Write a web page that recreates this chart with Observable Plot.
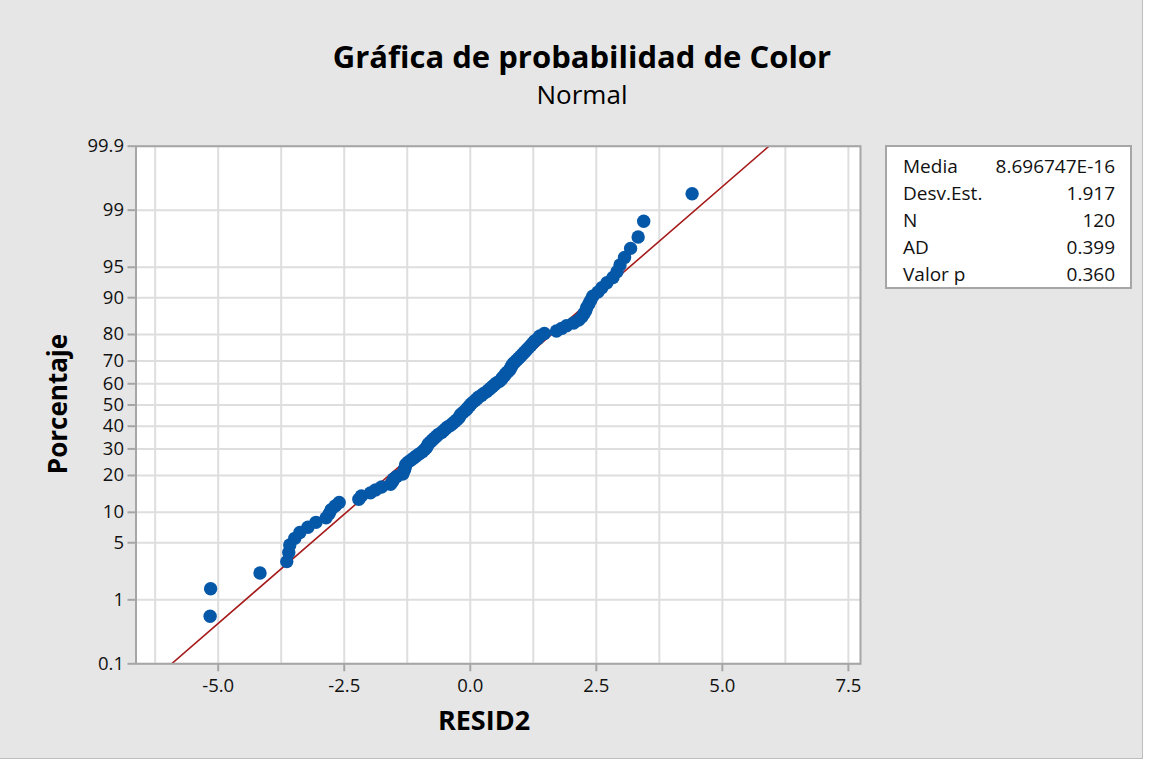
<!DOCTYPE html>
<html>
<head>
<meta charset="utf-8">
<script src="https://cdn.jsdelivr.net/npm/d3@7"></script>
<script src="https://cdn.jsdelivr.net/npm/@observablehq/plot@0.6"></script>
<style>
  body { margin: 0; background: #ffffff; font-family: "Open Sans", sans-serif; }
  #page { position: relative; width: 1142px; height: 758px; background: #e6e6e6;
          border-right: 1px solid #bdbdbd; border-bottom: 1px solid #bdbdbd; overflow: hidden; }
  #page svg { position: absolute; left: 0; top: 0; max-width: none !important; width: 1150px; height: 767px; }
  .title { position: absolute; left: 0; width: 1164px; text-align: center; color: #000; line-height: 1; white-space: nowrap; }
  #t1 { top: 41px; font-size: 31px; font-weight: 700; }
  #t2 { top: 81px; font-size: 26px; font-weight: 400; }
  #xlab { position: absolute; left: 384px; width: 200px; top: 706px; text-align: center; font-size: 27px; font-weight: 700; line-height: 1; color: #000; }
  #ylab { position: absolute; left: 57px; top: 404px; transform: translate(-50%, -50%) rotate(-90deg); font-size: 26px; font-weight: 700; line-height: 1; white-space: nowrap; color: #000; }
  #legend { position: absolute; left: 885px; top: 145px; width: 247px; height: 144px; box-sizing: border-box;
            background: #fff; border: 2px solid #a6a6a6; padding: 6px 15px 0 16px; font-size: 19px; color: #111; }
  #legend .row { display: flex; justify-content: space-between; height: 27px; line-height: 27px; }
</style>
</head>
<body>
<div id="page">
  <div class="title" id="t1">Gráfica de probabilidad de Color</div>
  <div class="title" id="t2">Normal</div>
  <div id="xlab">RESID2</div>
  <div id="ylab">Porcentaje</div>
  <div id="legend"></div>
</div>
<script>
// ---- data ----
const resid2 = [
  -5.16, -5.15, -4.17, -3.64, -3.60, -3.58, -3.48, -3.38, -3.22, -3.06,
  -2.86, -2.80, -2.76, -2.68, -2.60, -2.21, -2.16, -1.98, -1.88, -1.76,
  -1.58, -1.54, -1.52, -1.46, -1.34, -1.32, -1.30, -1.29, -1.28, -1.24,
  -1.18, -1.12, -1.07, -1.01, -0.95, -0.91, -0.87, -0.85, -0.83, -0.79,
  -0.75, -0.71, -0.67, -0.63, -0.57, -0.53, -0.49, -0.45, -0.39, -0.35,
  -0.31, -0.27, -0.23, -0.21, -0.19, -0.15, -0.11, -0.07, -0.05, -0.01,
   0.01,  0.05,  0.09,  0.13,  0.16,  0.22,  0.26,  0.32,  0.36,  0.40,
   0.44,  0.48,  0.52,  0.58,  0.62,  0.64,  0.68,  0.70,  0.74,  0.78,
   0.80,  0.82,  0.84,  0.88,  0.92,  0.96,  1.00,  1.04,  1.08,  1.12,
   1.16,  1.20,  1.24,  1.28,  1.34,  1.38,  1.47,  1.71,  1.81,  1.91,
   2.05,  2.15,  2.21,  2.25,  2.29,  2.31,  2.35,  2.39,  2.43,  2.53,
   2.61,  2.71,  2.83,  2.91,  2.97,  3.06,  3.18,  3.33,  3.44,  4.40
];
const percentTicks  = [0.1, 1, 5, 10, 20, 30, 40, 50, 60, 70, 80, 90, 95, 99, 99.9];
const percentLabels = ["0.1", "1", "5", "10", "20", "30", "40", "50", "60", "70", "80", "90", "95", "99", "99.9"];
const xTicks = [-5, -2.5, 0, 2.5, 5, 7.5];
const xGridLines = [-6.25, -5, -3.75, -2.5, -1.25, 0, 1.25, 2.5, 3.75, 5, 6.25, 7.5];
const statNames  = ["Media", "Desv.Est.", "N", "AD", "Valor p"];
const statValues = ["8.696747E-16", "1.917", "120", "0.399", "0.360"];
const fitMean = 8.696747e-16;
const fitSD = 1.917;

// ---- inverse normal CDF (Acklam) ----
function qnorm(p) {
  const a = [-3.969683028665376e+01, 2.209460984245205e+02, -2.759285104469687e+02, 1.383577518672690e+02, -3.066479806614716e+01, 2.506628277459239e+00];
  const b = [-5.447609879822406e+01, 1.615858368580409e+02, -1.556989798598866e+02, 6.680131188771972e+01, -1.328068155288572e+01];
  const c = [-7.784894002430293e-03, -3.223964580411365e-01, -2.400758277161838e+00, -2.549732539343734e+00, 4.374664141464968e+00, 2.938163982698783e+00];
  const d = [7.784695709041462e-03, 3.224671290700398e-01, 2.445134137142996e+00, 3.754408661907416e+00];
  const pl = 0.02425, ph = 1 - pl;
  let q, r;
  if (p < pl) {
    q = Math.sqrt(-2 * Math.log(p));
    return (((((c[0]*q+c[1])*q+c[2])*q+c[3])*q+c[4])*q+c[5]) / ((((d[0]*q+d[1])*q+d[2])*q+d[3])*q+1);
  }
  if (p <= ph) {
    q = p - 0.5; r = q * q;
    return (((((a[0]*r+a[1])*r+a[2])*r+a[3])*r+a[4])*r+a[5])*q / (((((b[0]*r+b[1])*r+b[2])*r+b[3])*r+b[4])*r+1);
  }
  q = Math.sqrt(-2 * Math.log(1 - p));
  return -(((((c[0]*q+c[1])*q+c[2])*q+c[3])*q+c[4])*q+c[5]) / ((((d[0]*q+d[1])*q+d[2])*q+d[3])*q+1);
}

// ---- derived tables ----
const n = resid2.length;
const sorted = d3.sort(resid2);
const points = sorted.map((v, i) => ({ r: v, z: qnorm((i + 1 - 0.3) / (n + 0.4)) }));
const yTickZ = percentTicks.map(p => qnorm(p / 100));
const labelByZ = new Map(yTickZ.map((z, i) => [z, percentLabels[i]]));
const zLo = qnorm(0.001), zHi = qnorm(0.999);
const fitLine = [zLo, zHi].map(z => ({ z, x: fitMean + fitSD * z }));

const chart = Plot.plot({
  width: 1150,
  height: 767,
  marginLeft: 135.5,
  marginRight: 290,
  marginTop: 145.7,
  marginBottom: 103.7,
  style: { background: "transparent", fontFamily: "Open Sans, sans-serif", fontSize: "18.5px", color: "#111" },
  x: { domain: [-6.63, 7.74], label: null },
  y: { domain: [zLo, zHi], label: null },
  marks: [
    Plot.frame({ fill: "#ffffff", stroke: null }),
    Plot.ruleX(xGridLines, { stroke: "#dedede", strokeWidth: 2 }),
    Plot.ruleY(yTickZ, { stroke: "#dedede", strokeWidth: 2 }),
    Plot.line(fitLine, { x: "x", y: "z", stroke: "#a61b1b", strokeWidth: 1.6, clip: true }),
    Plot.dot(points, { x: "r", y: "z", r: 6.7, fill: "#0557a8" }),
    Plot.frame({ stroke: "#a6a6a6", strokeWidth: 2 }),
    Plot.axisX(xTicks, { tickSize: 8, tickPadding: 7, stroke: "#a6a6a6", strokeWidth: 2,
      tickFormat: d => d.toFixed(1), label: null }),
    Plot.axisY(yTickZ, { tickSize: 8, tickPadding: 4, stroke: "#a6a6a6", strokeWidth: 2,
      tickFormat: d => labelByZ.get(d), label: null })
  ]
});
document.getElementById("page").appendChild(chart);

// legend / statistics box
const legend = document.getElementById("legend");
statNames.forEach((name, i) => {
  const row = document.createElement("div");
  row.className = "row";
  const a = document.createElement("span"); a.textContent = name;
  const b = document.createElement("span"); b.textContent = statValues[i];
  row.appendChild(a); row.appendChild(b);
  legend.appendChild(row);
});
</script>
</body>
</html>
